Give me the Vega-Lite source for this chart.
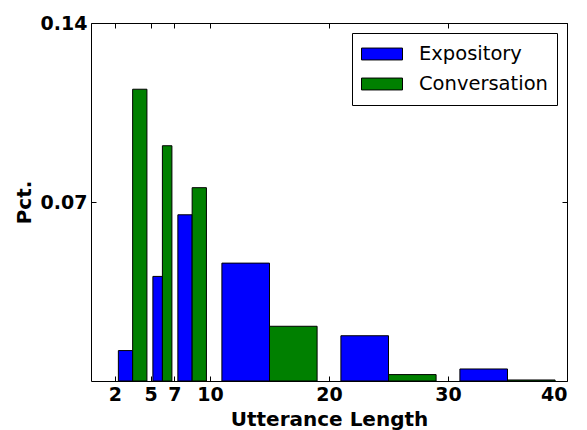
{
  "$schema": "https://vega.github.io/schema/vega-lite/v6.json",
  "width": 476,
  "height": 358,
  "autosize": {"type": "none"},
  "padding": {"left": 91, "top": 23, "right": 20, "bottom": 49},
  "config": {
    "view": {"stroke": "black", "strokeWidth": 1},
    "font": "DejaVu Sans",
    "axis": {"grid": false, "domain": false, "tickColor": "black", "labelColor": "black", "titleColor": "black"}
  },
  "data": {
    "values": [
      {"series": "Expository", "bin_lo": 2, "bin_hi": 5, "pct": 0.0119},
      {"series": "Conversation", "bin_lo": 2, "bin_hi": 5, "pct": 0.1141},
      {"series": "Expository", "bin_lo": 5, "bin_hi": 7, "pct": 0.0409},
      {"series": "Conversation", "bin_lo": 5, "bin_hi": 7, "pct": 0.092},
      {"series": "Expository", "bin_lo": 7, "bin_hi": 10, "pct": 0.065},
      {"series": "Conversation", "bin_lo": 7, "bin_hi": 10, "pct": 0.0756},
      {"series": "Expository", "bin_lo": 10, "bin_hi": 20, "pct": 0.0461},
      {"series": "Conversation", "bin_lo": 10, "bin_hi": 20, "pct": 0.0214},
      {"series": "Expository", "bin_lo": 20, "bin_hi": 30, "pct": 0.0177},
      {"series": "Conversation", "bin_lo": 20, "bin_hi": 30, "pct": 0.0025},
      {"series": "Expository", "bin_lo": 30, "bin_hi": 40, "pct": 0.0047},
      {"series": "Conversation", "bin_lo": 30, "bin_hi": 40, "pct": 0.0004}
    ]
  },
  "transform": [
    {"calculate": "datum.bin_hi - datum.bin_lo", "as": "w"},
    {"calculate": "datum.series === 'Expository' ? datum.bin_lo + 0.1 * datum.w : datum.bin_lo + 0.5 * datum.w", "as": "x0"},
    {"calculate": "datum.x0 + 0.4 * datum.w", "as": "x1"}
  ],
  "layer": [
    {
      "mark": {"type": "bar", "stroke": "black", "strokeWidth": 1, "opacity": 1},
      "encoding": {
        "x": {
          "field": "x0", "type": "quantitative",
          "scale": {"domain": [0, 40], "nice": false, "zero": false},
          "axis": {
            "orient": "bottom", "values": [2, 5, 7, 10, 20, 30, 40],
            "tickSize": -5, "labelPadding": 9, "labelFontSize": 19, "labelFontWeight": "bold",
            "title": "Utterance Length", "titleFontSize": 20, "titleFontWeight": "bold", "titlePadding": 5
          }
        },
        "x2": {"field": "x1"},
        "y": {
          "field": "pct", "type": "quantitative",
          "scale": {"domain": [0, 0.14], "nice": false},
          "axis": {
            "orient": "left", "values": [0.07, 0.14], "format": ".2f",
            "tickSize": -5, "labelPadding": 9, "labelFontSize": 19, "labelFontWeight": "bold",
            "title": "Pct.", "titleFontSize": 20, "titleFontWeight": "bold", "titlePadding": 6
          }
        },
        "y2": {"datum": 0},
        "color": {
          "field": "series", "type": "nominal",
          "scale": {"domain": ["Expository", "Conversation"], "range": ["#0000ff", "#008000"]},
          "legend": {
            "title": null, "orient": "none", "legendX": 261, "legendY": 10,
            "strokeColor": "black", "fillColor": "white", "padding": 9,
            "symbolType": "M-1,-0.29L1,-0.29L1,0.29L-1,0.29Z", "symbolSize": 1681,
            "symbolStrokeColor": "black", "symbolStrokeWidth": 1, "symbolOpacity": 1,
            "labelFontSize": 19.5, "labelOffset": 16, "labelColor": "black",
            "clipHeight": 24, "rowPadding": 6, "cornerRadius": 0
          }
        }
      }
    },
    {
      "mark": {"type": "rule", "opacity": 0},
      "encoding": {
        "x": {
          "field": "x0", "type": "quantitative",
          "axis": {"orient": "top", "values": [2, 5, 7, 10, 20, 30, 40], "tickSize": -5, "labels": false, "title": null}
        },
        "y": {
          "field": "pct", "type": "quantitative",
          "axis": {"orient": "right", "values": [0.07, 0.14], "tickSize": -5, "labels": false, "title": null}
        }
      }
    }
  ],
  "resolve": {"axis": {"x": "independent", "y": "independent"}}
}
